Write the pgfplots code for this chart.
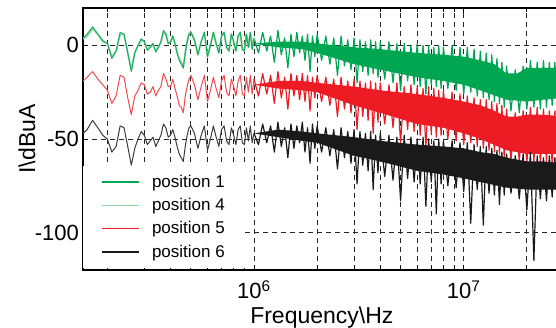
\documentclass[border=0pt]{standalone}
\usepackage{pgfplots}
\pgfplotsset{compat=1.18}
\usepackage{pgfplotstable}
\usepackage{fontspec}
\setmainfont{Liberation Sans}
\definecolor{cA}{HTML}{00A651}
\definecolor{cB}{HTML}{8CD3A0}
\definecolor{cC}{HTML}{ED1C24}
\definecolor{cD}{HTML}{1A1A1A}

\pgfplotstableread{
f g p4 r k
1.5e5 3 3 -20 -48
1.6e5 6 5 -17 -45
1.7e5 10 9 -14 -40
1.8e5 6 6 -18 -44
1.9e5 2.7 2 -21 -48
2.0e5 1 1 -24 -50
2.1e5 -7 -6 -31 -57
2.2e5 -3 -3 -27 -54
2.3e5 7 6 -16 -43
2.4e5 6 6 -17 -44
2.5e5 -4 -4 -28 -54
2.6e5 -14 -13 -37 -64
2.7e5 -4 -4 -27 -55
2.8e5 0 0 -24 -50
2.9e5 3.6 3 -20 -46
3.0e5 2 2 -21 -48
3.1e5 -2.7 -2 -26 -53
3.2e5 -1 -1 -25 -51
3.3e5 1 1 -22 -49
3.4e5 -3.6 -3 -27 -54
3.5e5 -1 -1 -24 -51
3.6e5 2 2 -22 -48
3.7e5 8 7 -15 -42
3.8e5 6 6 -18 -44
3.9e5 1 1 -22 -49
4.0e5 2 2 -22 -48
4.1e5 5 5 -18 -45
4.2e5 1 1 -23 -49
4.3e5 -4 -4 -27 -54
4.4e5 -8 -7 -32 -58
4.5e5 -10 -9 -33 -60
4.6e5 -12 -12 -36 -62
4.7e5 -4 -4 -27 -54
4.8e5 2 2 -22 -48
4.9e5 6 6 -18 -44
5.0e5 7 7 -16 -43
5.2e5 3 3 -21 -47
5.4e5 -5 -5 -29 -55
5.6e5 2 2 -22 -48
5.8e5 7 7 -16 -43
6.0e5 -6 -6 -30 -56
6.2e5 0 0 -24 -50
6.4e5 7 7 -17 -43
6.6e5 1 1 -23 -49
6.8e5 -4 -4 -28 -54
7.0e5 5 5 -19 -45
7.2e5 7 7 -16 -43
7.4e5 -1 -1 -25 -51
7.6e5 -3 -3 -27 -53
7.8e5 6 6 -18 -44
8.0e5 2 2 -22 -48
8.2e5 -3 -3 -27 -53
8.4e5 5 5 -19 -45
8.6e5 7 7 -16 -43
8.8e5 -2 -2 -26 -52
9.0e5 -3 -3 -27 -53
9.2e5 6 6 -17 -44
9.4e5 -1 -1 -25 -51
9.6e5 7 7 -16 -43
9.8e5 -2 -2 -26 -52
1.0e6 4 4 -18 -47
}\lowdata

\pgfplotstableread{
f g r k
1.00e6 4 -18 -47
1.05e6 -4 -27 -53
1.10e6 7 -15 -42
1.15e6 -3 -26 -52
1.20e6 5 -16 -43
1.25e6 -9 -31 -57
1.30e6 8 -14 -41
1.35e6 -5 -28 -54
1.40e6 4 -17 -44
1.45e6 -12 -34 -60
1.50e6 6 -15 -42
1.55e6 -6 -27 -55
1.60e6 7 -16 -43
1.65e6 -4 -29 -52
1.70e6 5 -15 -41
1.75e6 -8 -30 -57
1.80e6 6 -16 -44
1.85e6 -14 -35 -63
1.90e6 5 -17 -42
1.95e6 -6 -28 -55
2.00e6 6 -16 -43
2.1e6 -8 -30 -57
2.2e6 5 -17 -44
2.3e6 -10 -32 -59
2.4e6 4 -18 -45
2.5e6 -16 -38 -66
2.6e6 5 -17 -44
2.7e6 -11 -34 -60
2.8e6 3 -19 -46
2.9e6 -13 -36 -63
3.0e6 4 -18 -45
3.1e6 -20 -45 -74
3.2e6 3 -19 -46
3.3e6 -14 -38 -64
3.4e6 2 -20 -47
3.5e6 -16 -40 -67
3.6e6 3 -19 -46
3.7e6 -15 -47 -77
3.8e6 2 -20 -48
3.9e6 -17 -41 -68
4.0e6 2 -20 -47
4.2e6 -18 -42 -70
4.4e6 2 -21 -48
4.6e6 -20 -44 -72
4.8e6 1 -20 -49
5.0e6 -24 -52 -83
5.2e6 1 -22 -48
5.4e6 -19 -45 -71
5.6e6 0 -21 -49
5.8e6 -21 -46 -73
6.0e6 1 -22 -50
6.2e6 -22 -48 -74
6.4e6 0 -23 -49
6.6e6 -26 -55 -86
6.8e6 0 -22 -50
7.0e6 -21 -47 -73
7.2e6 -1 -23 -51
7.4e6 -22 -49 -90
7.6e6 0 -24 -50
7.8e6 -23 -48 -74
8.0e6 -1 -24 -51
8.4e6 -23 -50 -75
8.8e6 0 -25 -51
9.2e6 -24 -51 -76
9.6e6 -1 -26 -52
1.00e7 -26 -53 -78
1.04e7 -1 -27 -52
1.08e7 -25 -52 -95
1.12e7 -2 -28 -53
1.16e7 -27 -54 -77
1.20e7 -3 -29 -54
1.24e7 -28 -55 -96
1.28e7 -4 -29 -54
1.32e7 -29 -56 -79
1.36e7 -5 -30 -55
1.40e7 -30 -57 -80
1.44e7 -7 -31 -56
1.48e7 -31 -58 -85
1.52e7 -9 -32 -57
1.56e7 -33 -60 -80
1.60e7 -11 -34 -58
1.68e7 -35 -61 -79
1.76e7 -13 -36 -59
1.84e7 -36 -62 -82
1.92e7 -11 -35 -58
2.00e7 -34 -63 -88
2.08e7 -8 -33 -57
2.16e7 -33 -62 -115
2.24e7 -9 -33 -59
2.32e7 -34 -63 -82
2.40e7 -8 -34 -60
2.48e7 -33 -62 -83
2.56e7 -9 -35 -59
2.64e7 -32 -64 -81
2.72e7 -9 -35 -60
2.80e7 -33 -63 -82
2.88e7 -8 -35 -59
2.96e7 -32 -64 -81
}\densedata

% solid cores of the dense bands (closed outlines: upper edge, then lower edge back)
\pgfplotstableread{
f g r k
1.0e6 1 -21 -47
1.3e6 2 -19 -45
1.7e6 2 -19 -46
2.0e6 1 -20 -47
3.0e6 -1 -22 -49
4.0e6 -2 -24 -51
6.0e6 -4 -26 -53
8.0e6 -5 -28 -54
1.0e7 -6 -30 -55
1.2e7 -8 -32 -57
1.4e7 -10 -35 -58
1.6e7 -15 -38 -60
1.8e7 -15 -38 -61
2.0e7 -12 -37 -62
2.4e7 -12 -37 -62
3.0e7 -12 -38 -63
3.0e7 -28 -58 -77
2.4e7 -29 -58 -77
2.0e7 -30 -58 -77
1.6e7 -29 -56 -76
1.2e7 -24 -50 -73
1.0e7 -21 -47 -71
8.0e6 -19 -44 -69
6.0e6 -17 -42 -67
4.0e6 -13 -36 -62
3.0e6 -10 -32 -59
2.0e6 -4 -25 -52
1.7e6 -2 -24 -51
1.3e6 -1 -23 -49
1.0e6 1 -21 -47
}\coredata

\begin{document}
\begin{tikzpicture}
\begin{axis}[
  scale only axis, width=477.7pt, height=262pt,
  xmode=log, xmin=1.53e5, xmax=2.9e7, ymin=-120, ymax=20,
  xtick={1e6,1e7}, xticklabels={10\textsuperscript{6},10\textsuperscript{7}},
  minor xtick={2e5,3e5,4e5,5e5,6e5,7e5,8e5,9e5,2e6,3e6,4e6,5e6,6e6,7e6,8e6,9e6,2e7},
  ytick={-100,-50,0}, yticklabels={-100,-50,0},
  xmajorgrids, xminorgrids, ymajorgrids,
  major grid style={black!85, line width=0.8pt, dash pattern=on 4.5pt off 4.5pt},
  minor grid style={black!85, line width=0.8pt, dash pattern=on 4.5pt off 4.5pt},
  tick align=inside, major tick length=5pt, minor tick length=4pt,
  tick style={black, line width=0.8pt},
  axis line style={black, line width=1.2pt},
  ticklabel style={font=\fontsize{22}{24}\selectfont},
  xticklabel style={anchor=base, yshift=-29pt, inner sep=0pt},
  yticklabel style={anchor=east, inner sep=0pt, xshift=-4pt},
  xlabel={Frequency\textbackslash Hz}, ylabel={I\textbackslash dBuA},
  label style={font=\fontsize{23}{25}\selectfont},
  xlabel style={at={(axis description cs:0.5,0)}, anchor=base, yshift=-54pt, inner sep=0pt},
  ylabel style={at={(axis description cs:-0.1172,0.5)}, anchor=center, inner sep=0pt},
  legend cell align=left,
  legend style={at={(axis description cs:0,0.008)}, anchor=south west, draw=none, fill=white,
    inner xsep=18pt, inner ysep=7pt, font=\fontsize{17}{19}\selectfont, row sep=5.5pt,
    /tikz/every odd column/.append style={column sep=10pt}},
]
% green (position 1 and 4)
\addplot[fill=cA, draw=none, forget plot] table[x=f,y=g]{\coredata} -- cycle;
\addplot[cA, line width=1.2pt, line join=round,
  legend image code/.code={\draw[cA, line width=1.8pt] (0pt,0pt) -- (37pt,0pt);}]
  table[x=f,y=g]{\densedata};
\addlegendentry{position 1}
\addplot[cB, line width=1.8pt, line join=round,
  legend image code/.code={\draw[cB, line width=1.2pt] (0pt,0pt) -- (37pt,0pt);}]
  table[x=f,y=p4]{\lowdata};
\addlegendentry{position 4}
\addplot[cA!85!cB, line width=0.9pt, line join=round, forget plot] table[x=f,y=g]{\lowdata};
% red (position 5)
\addplot[cC!80, line width=1pt, line join=round, forget plot] table[x=f,y=r]{\lowdata};
\addplot[fill=cC, draw=none, forget plot] table[x=f,y=r]{\coredata} -- cycle;
\addplot[cC, line width=1.2pt, line join=round,
  legend image code/.code={\draw[cC, line width=1.8pt] (0pt,0pt) -- (37pt,0pt);}]
  table[x=f,y=r]{\densedata};
\addlegendentry{position 5}
% black (position 6)
\addplot[cD!85, line width=1pt, line join=round, forget plot] table[x=f,y=k]{\lowdata};
\addplot[fill=cD, draw=none, forget plot] table[x=f,y=k]{\coredata} -- cycle;
\addplot[cD, line width=1.2pt, line join=round,
  legend image code/.code={\draw[cD, line width=1.8pt] (0pt,0pt) -- (37pt,0pt);}]
  table[x=f,y=k]{\densedata};
\addlegendentry{position 6}
\end{axis}
\pgfresetboundingbox
\path[use as bounding box] ([xshift=-83pt,yshift=-58pt]current axis.south west) rectangle ([xshift=473pt,yshift=8pt]current axis.north west);
\end{tikzpicture}
\end{document}
